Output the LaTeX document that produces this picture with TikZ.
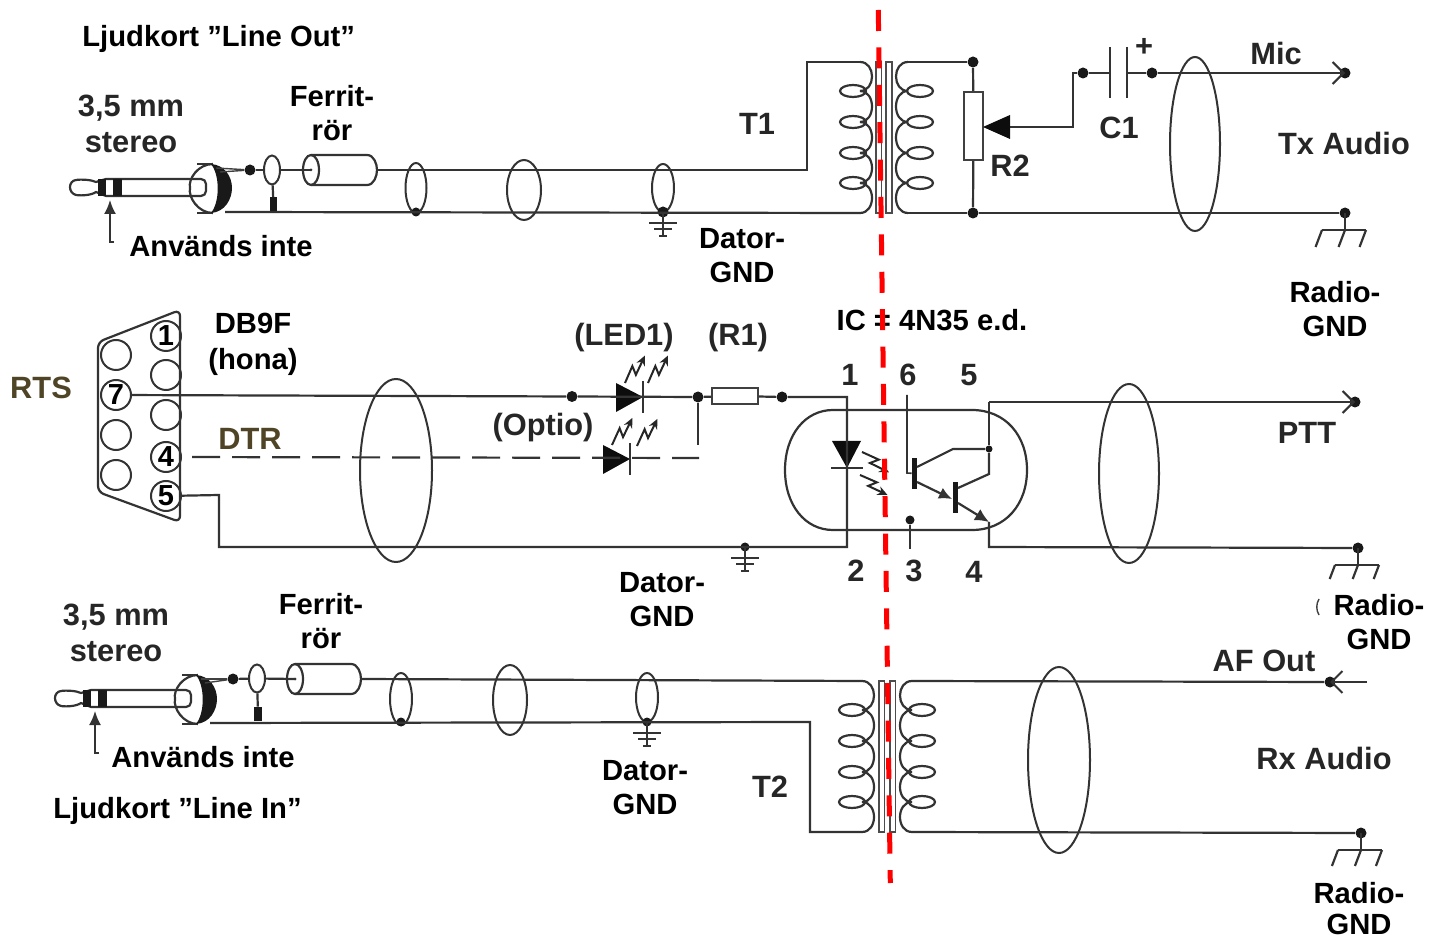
\documentclass[tikz,border=0pt]{standalone}
\usepackage{fontspec}
\setmainfont{Liberation Sans}
\usetikzlibrary{arrows.meta, shapes.geometric}
\definecolor{rtsbrown}{HTML}{4F4526}
\tikzset{
  every picture/.style={x=0.5pt,y=-0.5pt},
  wire/.style={draw=black!80,line width=1.1pt},
  thinwire/.style={draw=black!75,line width=0.7pt},
  dot/.style={circle,fill=black!90,inner sep=0pt,minimum size=5.5pt},
  ring/.style={ellipse,draw=black!80,line width=1pt,inner sep=0pt},
  dbpin/.style={circle,draw=black!80,line width=1pt,inner sep=0pt,minimum size=15pt,font=\bfseries\fontsize{14.5}{14.5}\selectfont},
  res/.style={rectangle,draw=black!75,line width=1pt,fill=white,inner sep=0pt},
  lab/.style={font=\bfseries\fontsize{14.6}{17}\selectfont,align=center,inner sep=0pt,text=black},
  scan/.style={font=\bfseries\fontsize{15.4}{18}\selectfont,align=center,inner sep=0pt,text=black!85},
  barb/.style={-{Straight Barb[length=5.5pt,width=11pt,line width=1pt]}},
  redline/.style={draw=red,line width=2.5pt,dash pattern=on 10.5pt off 8.2pt},
  pics/jackplug/.style={code={
    \draw[wire] (36,-8) -- (131,-8) to[out=0,in=90] (136,-3) -- (136,4) to[out=-90,in=0] (131,9) -- (36,9) -- (26,5)
      .. controls (22,8) and (12,9) .. (6,8) .. controls (-2,6) and (-2,-6) .. (6,-7) .. controls (12,-8) and (22,-7) .. (26,-5) -- cycle;
    \fill[black!90] (28,-8) rectangle (36,9);
    \fill[black!90] (43,-8) rectangle (52,9);
    \draw[wire] (143,-23) .. controls (128,-23) and (118,-8) .. (120,1) .. controls (118,10) and (128,26) .. (143,26);
    \draw[wire] (127,-23) -- (143,-23);
    \draw[wire] (127,26) -- (143,26);
    \fill[black!90] (141,-23) .. controls (155,-22) and (162,-10) .. (162,1) .. controls (162,12) and (155,25) .. (141,26)
      .. controls (150,15) and (150,-12) .. (141,-23) -- cycle;
    \draw[line width=1pt,draw=black!80,-{Latex[length=7pt,width=6pt]}] (44,55) -- (40,55) -- (40,13);
    \coordinate (-top) at (146,-19);
    \coordinate (-topb) at (150,-15);
    \coordinate (-bot) at (155,25);
  }},
  pics/ferrite/.style={code={
    \draw[wire] (0,0) ellipse [x radius=8,y radius=15];
    \draw[wire] (0,-15) -- (56,-15) .. controls (63,-15) and (66,-6) .. (66,0) .. controls (66,6) and (63,15) .. (56,15) -- (0,15);
    \fill[black!80] (0,0) circle [radius=1.5];
    \coordinate (-in) at (0,0);
    \coordinate (-end) at (66,0);
  }},
  pics/coil/.style={code={
    \foreach \ya/\yb in {0/29,29/60,60/91,91/121,121/151}
      \draw[wire] (0,\ya) .. controls (16,\ya) and (16,\yb) .. (0,\yb);
    \foreach \ya in {29,60,91,121}
      \draw[wire] (#1,\ya) ellipse [x radius=13,y radius=6];
  }},
  pics/earth/.style={code={
    \draw[wire] (0,0) -- (0,24);
    \draw[wire] (-14,11) -- (14,11);
    \draw[wire] (-9,17) -- (9,17);
    \draw[wire] (-4,24) -- (4,24);
  }},
  pics/chassis/.style={code={
    \draw[wire] (0,0) -- (0,17);
    \draw[wire] (-23,17) -- (21,17);
    \draw[wire] (-23,17) -- ({-23-#1*0.38},{17+#1});
    \draw[wire] (0,17) -- ({0-#1*0.38},{17+#1});
    \draw[wire] (21,17) -- ({21-#1*0.38},{17+#1});
  }},
  pics/diode/.style={code={
    \fill[black!95] (-27,-14) -- (0,0) -- (-27,15) -- cycle;
    \draw[wire] (0,-16) -- (0,16);
  }},
  pics/lightbolt/.style={code={
    \draw[draw=black!85,line width=1pt,-{Stealth[length=5pt,width=4.5pt]}] (0,0) -- (18,-4) -- (13,4) -- (34,0);
  }},
}

\begin{document}
\begin{tikzpicture}
  \useasboundingbox (0,0) rectangle (1440,940);

  \pic (jk1) at (70,187) {jackplug};
  \node[dot] (tj1) at (250,170){};
  \node[ring,minimum width=8pt,minimum height=14.5pt] (fr1) at (272,170){};
  \node[fill=black!90,inner sep=0pt,minimum width=3.5pt,minimum height=7.5pt] (fb1) at (273.5,205){};
  \pic (fe1) at (311,170) {ferrite};
  \node[ring,minimum width=10.5pt,minimum height=25pt] (s1) at (416,188){};
  \node[ring,minimum width=17pt,minimum height=30pt] (s2) at (524,190){};
  \node[ring,minimum width=11pt,minimum height=24pt] (s3) at (663,188){};
  \node[dot,minimum size=4.5pt] (sd1) at (416,212){};
  \node[dot] (sd3) at (663,212){};
  \pic at (663,212) {earth};
  \coordinate (t1c) at (807,170);
  \coordinate (t1d) at (807,62);
  \coordinate (t1a) at (860,62);
  \coordinate (t1b) at (860,213);
  \pic at (860,62) {coil={-7}};
  \pic[xscale=-1] at (908,62) {coil={-12}};
  \node[rectangle,draw=black!70,line width=0.8pt,inner sep=0pt,minimum width=2.8pt,minimum height=75.5pt] (c1a) at (878.5,137.5){};
  \node[rectangle,draw=black!70,line width=0.8pt,inner sep=0pt,minimum width=2.8pt,minimum height=75.5pt] (c1b) at (889,137.5){};
  \coordinate (t1e) at (908,62);
  \coordinate (t1f) at (908,213);
  \node[dot] (r2t) at (973,62){};
  \node[dot] (r2b) at (973,213){};
  \node[res,minimum width=9.5pt,minimum height=34pt] (r2) at (973.5,126){};
  \coordinate (wip) at (983,127);
  \coordinate (wipb) at (1010,127);
  \coordinate (wipc) at (1073,127);
  \coordinate (wipd) at (1073,73);
  \node[dot] (cl) at (1083,73){};
  \node[dot] (cr) at (1152,73){};
  \coordinate (cpa) at (1110,73);
  \coordinate (cpb) at (1127,73);
  \node[dot] (mic) at (1345,73){};
  \node[dot] (txg) at (1345,213){};
  \node[ring,minimum width=25pt,minimum height=87pt] (s4) at (1195,144){};
  \pic at (1345,213) {chassis=17};

  \node[dbpin] (p1) at (166,336){1};
  \node[dbpin] (p2) at (166,375){};
  \node[dbpin] (p3) at (166,415){};
  \node[dbpin] (p4) at (166,457){4};
  \node[dbpin] (p5) at (166,496){5};
  \node[dbpin] (p7) at (116,395){7};
  \node[dbpin] (p8) at (116,355){};
  \node[dbpin] (p9) at (116,435){};
  \node[dbpin] (p10) at (116,475){};
  \node[ring,minimum width=36pt,minimum height=91.5pt] (s5) at (396,470.5){};
  \node[dot] (ld1) at (572,396.5){};
  \node[dot] (ld2) at (698,397){};
  \node[res,minimum width=23pt,minimum height=8pt] (r1) at (735,396){};
  \node[dot] (ld3) at (782,397){};
  \coordinate (dtrend) at (699,458);
  \coordinate (optop) at (698,445);
  \coordinate (ic1) at (847,397);
  \coordinate (ic2) at (847,547);
  \coordinate (gndl) at (219,547);
  \coordinate (gndu) at (219,495);
  \node[dot,minimum size=4.5pt] (gd1) at (745,547){};
  \pic at (745,547) {earth};
  \pic at (643,397) {diode};
  \pic at (630,459) {diode};
  \pic[rotate=-90] at (847,468) {diode};
  \pic[rotate=54] at (625,383) {lightbolt};
  \pic[rotate=54] at (648,383) {lightbolt};
  \pic[rotate=53] at (612,445) {lightbolt};
  \pic[rotate=53] at (637,446) {lightbolt};
  \pic[rotate=-37] at (862,452) {lightbolt};
  \pic[rotate=-36] at (860,475) {lightbolt};
  \node[fill=black!90,inner sep=0pt,minimum width=2.5pt,minimum height=15.5pt] (q1) at (914.5,473.5){};
  \node[fill=black!90,inner sep=0pt,minimum width=2.5pt,minimum height=15.5pt] (q2) at (955,498){};
  \coordinate (pin6) at (907,395);
  \coordinate (pin6b) at (907,473);
  \coordinate (q1c) at (917,467);
  \coordinate (q1k) at (953,449);
  \node[dot,minimum size=3.5pt] (qj) at (989,449){};
  \coordinate (q1e) at (917,482);
  \coordinate (q2b) at (952,499);
  \coordinate (q2c) at (958,488);
  \coordinate (q2k) at (989,474);
  \coordinate (q2e) at (958,503);
  \coordinate (q2x) at (989,522);
  \coordinate (q5t) at (989,402);
  \coordinate (q4b) at (989,547);
  \node[dot,minimum size=4.5pt] (pin3) at (910,520){};
  \coordinate (pin3b) at (910,549);
  \node[dot] (ptt) at (1355,402){};
  \node[dot] (mdg) at (1358,548){};
  \node[ring,minimum width=30pt,minimum height=89.5pt] (s6) at (1129,473.5){};
  \pic at (1358,548) {chassis=14};

  \pic (jk2) at (55,698) {jackplug};
  \node[dot] (tj2) at (233,679){};
  \node[ring,minimum width=8pt,minimum height=14pt] (fr2) at (257,678.5){};
  \node[fill=black!90,inner sep=0pt,minimum width=4pt,minimum height=7pt] (fb2) at (258,714){};
  \pic (fe2) at (295,679) {ferrite};
  \node[ring,minimum width=11pt,minimum height=26pt] (s7) at (401,699){};
  \node[ring,minimum width=17pt,minimum height=35pt] (s8) at (510,700){};
  \node[ring,minimum width=11pt,minimum height=24.5pt] (s9) at (647,697.5){};
  \node[dot,minimum size=4.5pt] (sd7) at (401,722){};
  \node[dot,minimum size=4.5pt] (sd9) at (647,722){};
  \pic at (647,722) {earth};
  \coordinate (t2a) at (862,681);
  \coordinate (t2b) at (862,832);
  \coordinate (t2c) at (810,722);
  \coordinate (t2d) at (810,832);
  \pic at (862,681) {coil={-10}};
  \pic[xscale=-1] at (912,681) {coil={-10}};
  \node[rectangle,draw=black!70,line width=0.8pt,inner sep=0pt,minimum width=2.8pt,minimum height=75.5pt] (c2a) at (881.5,756.5){};
  \node[rectangle,draw=black!70,line width=0.8pt,inner sep=0pt,minimum width=2.8pt,minimum height=75.5pt] (c2b) at (892.5,756.5){};
  \coordinate (t2e) at (912,681);
  \coordinate (t2f) at (912,832);
  \node[dot] (afo) at (1330,682){};
  \coordinate (afe) at (1367,682);
  \node[dot] (rxg) at (1361,833){};
  \node[ring,minimum width=31pt,minimum height=93pt] (s10) at (1059,760){};
  \pic at (1361,833) {chassis=16};

  \draw[thinwire] (jk1-top) -- (tj1);
  \draw[thinwire] (jk1-topb) -- (tj1);
  \draw[wire] (tj1) -- (fr1);
  \draw[wire] (fr1) -- (fe1-in);
  \draw[wire] (fr1) -- (fb1);
  \draw[wire] (fe1-end) -- (t1c) -- (t1d) -- (t1a);
  \draw[wire] (jk1-bot) -- (t1b);
  \draw[wire] (t1e) -- (r2t);
  \draw[wire] (t1f) -- (r2b);
  \draw[wire] (r2b) -- (txg);
  \draw[wire] (r2t) -- (r2);
  \draw[wire] (r2) -- (r2b);
  \draw[wire] (wipb) -- (wipc) -- (wipd) -- (cl);
  \fill[black!95] (wip) -- (1010,115) -- (1010,139) -- cycle;
  \draw[wire] (cl) -- (cpa);
  \draw[wire] (1110,47) -- (1110,98);
  \draw[wire] (1127,47) -- (1127,98);
  \draw[wire] (cpb) -- (cr);
  \draw[wire,barb] (cr) -- (mic.center);

  \draw[wire,rounded corners=3pt] (180,310) -- (98,342) -- (98,492) -- (180,522) -- cycle;
  \draw[wire] (p7) -- (ld1);
  \draw[wire] (ld1) -- (ld2);
  \draw[wire] (ld2) -- (r1);
  \draw[wire] (r1) -- (ld3);
  \draw[wire] (ld3) -- (ic1) -- (ic2) -- (gndl) -- (gndu) -- (p5);
  \draw[wire] (ld2) -- (optop);
  \draw[wire,dash pattern=on 14pt off 6pt,dash phase=15pt] (p4) -- (dtrend);
  \draw[wire] (833,410) -- (972,410) .. controls (1005,410) and (1027,435) .. (1027,470) .. controls (1027,505) and (1005,530) .. (972,530) -- (833,530) .. controls (805,530) and (785,505) .. (785,470) .. controls (785,435) and (805,410) .. (833,410) -- cycle;
  \draw[wire,line width=0.8pt] (pin6) -- (pin6b) -- (q1);
  \draw[wire] (q1c) -- (q1k) -- (qj);
  \draw[wire,-{Latex[length=6.5pt,width=6pt]}] (q1e) -- (q2b);
  \draw[wire] (q2c) -- (q2k) -- (qj);
  \draw[wire,-{Latex[length=7pt,width=6.5pt]}] (q2e) -- (q2x);
  \draw[wire] (q2x) -- (q4b) -- (mdg);
  \draw[wire] (pin3) -- (pin3b);
  \draw[wire] (qj) -- (q5t);
  \draw[wire,barb] (q5t) -- (ptt.center);

  \draw[thinwire] (jk2-top) -- (tj2);
  \draw[thinwire] (jk2-topb) -- (tj2);
  \draw[wire] (tj2) -- (fr2);
  \draw[wire] (fr2) -- (fe2-in);
  \draw[wire] (fr2) -- (fb2);
  \draw[wire] (fe2-end) -- (t2a);
  \draw[wire] (jk2-bot) -- (t2c) -- (t2d) -- (t2b);
  \draw[wire] (t2e) -- (afo);
  \draw[wire,barb] (afe) -- (afo.center);
  \draw[wire] (t2f) -- (rxg);
  \draw[thinwire] (1319,599) .. controls (1316,604) and (1316,610) .. (1319,615);

  \node[lab,anchor=west] (txt1) at (82,39) {Ljudkort ”Line Out”};
  \node[scan,font=\bfseries\fontsize{15.4}{18.3}\selectfont] (txt2) at (131,124) {3,5 mm\\stereo};
  \node[lab] (txt3) at (332,113) {Ferrit-\\rör};
  \node[scan] (txt4) at (757,124) {T1};
  \node[scan] (txt5) at (1119,128) {C1};
  \node[scan] (txt6) at (1010,166) {R2};
  \node[scan] (txt7) at (1276,53) {Mic};
  \node[scan] (txt8) at (1344,143) {Tx Audio};
  \node[scan] (txt9) at (1144,47) {+};
  \node[lab] (txt10) at (221,246) {Används inte};
  \node[lab] (txt11) at (742,256) {Dator-\\GND};
  \node[lab] (txt12) at (1335,309) {Radio-\\GND};
  \node[lab,font=\bfseries\fontsize{14.6}{18}\selectfont] (txt13) at (253,344) {DB9F\\(hona)};
  \node[scan,text=rtsbrown] (txt14) at (41,388) {RTS};
  \node[scan,text=rtsbrown] (txt15) at (250,439) {DTR};
  \node[scan] (txt16) at (624,338) {(LED1)};
  \node[scan] (txt17) at (738,338) {(R1)};
  \node[scan] (txt18) at (543,428) {(Optio)};
  \node[lab] (txt19) at (932,320) {IC = 4N35 e.d.};
  \node[scan] (pn1) at (850,375) {1};
  \node[scan] (pn6) at (908,375) {6};
  \node[scan] (pn5) at (969,375) {5};
  \node[scan] (pn2) at (856,571) {2};
  \node[scan] (pn3) at (914,571) {3};
  \node[scan] (pn4) at (974,572) {4};
  \node[scan] (txt20) at (1307,433) {PTT};
  \node[lab] (txt21) at (662,600) {Dator-\\GND};
  \node[scan,font=\bfseries\fontsize{15.4}{18.3}\selectfont] (txt22) at (116,633) {3,5 mm\\stereo};
  \node[lab] (txt23) at (321,621) {Ferrit-\\rör};
  \node[lab] (txt24) at (1379,622) {Radio-\\GND};
  \node[scan] (txt25) at (1264,661) {AF Out};
  \node[scan] (txt26) at (1324,758) {Rx Audio};
  \node[lab] (txt27) at (203,757) {Används inte};
  \node[lab,anchor=west] (txt28) at (53,811) {Ljudkort ”Line In”};
  \node[lab] (txt29) at (645,788) {Dator-\\GND};
  \node[scan] (txt30) at (770,787) {T2};
  \node[lab] (txt31) at (1359,893) {Radio-};
  \node[lab] (txt32) at (1359,924) {GND};

  \coordinate (rtop) at (878.3,10);
  \coordinate (rbot) at (890.3,883);
  \draw[redline] (rtop) -- (rbot);
\end{tikzpicture}
\end{document}
